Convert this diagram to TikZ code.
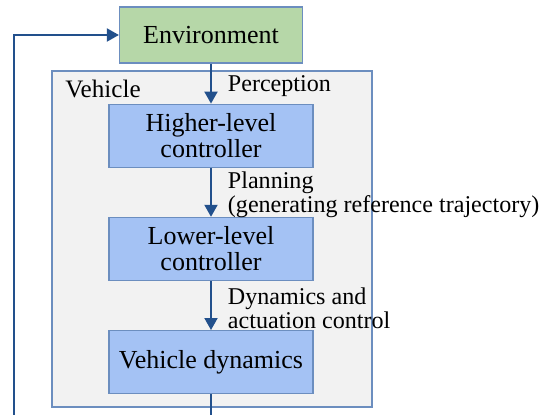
\documentclass[tikz,border=0pt]{standalone}
\usepackage{fontspec}
\setmainfont{Liberation Serif}
\usetikzlibrary{arrows.meta}
\usetikzlibrary{positioning}

\definecolor{envGreen}{HTML}{B6D7A8}
\definecolor{ctrlBlue}{HTML}{A4C2F4}
\definecolor{frameGray}{HTML}{F2F2F2}
\definecolor{boxBorder}{HTML}{6C8EBF}
\definecolor{arrowBlue}{HTML}{22508C}

\begin{document}
\begin{tikzpicture}
      [x=0.02cm,y=-0.02cm,
       vehicleFrame/.style={rectangle,draw=boxBorder,fill=frameGray,line width=0.7pt,minimum width=6.4cm,minimum height=6.72cm},
       envBox/.style={rectangle,draw=boxBorder,fill=envGreen,line width=0.7pt,minimum width=3.66cm,minimum height=1.12cm,font=\fontsize{14.8}{15}\selectfont},
       ctrlBox/.style={rectangle,draw=boxBorder,fill=ctrlBlue,line width=0.7pt,minimum width=4.08cm,minimum height=1.26cm,align=center,font=\fontsize{14.8}{15}\selectfont,node distance=0.98cm},
       flowLine/.style={draw=arrowBlue,line width=1.1pt},
       flowArrow/.style={flowLine,-{Triangle[length=0.24cm,width=0.26cm]}},
       flowLabel/.style={right,align=left,inner sep=0pt,xshift=0.32cm,yshift=-0.05cm,text=black,font=\fontsize{13.7}{10.9}\selectfont}]
      \useasboundingbox (0,0) rectangle (545,415);
      \node[vehicleFrame] (vehicle) at (212,239) {};
      \node[anchor=base west,inner sep=0pt,font=\fontsize{14.3}{15}\selectfont] (vehicleLabel) at (65,98) {Vehicle};
      \node[envBox] (env) at (211,35) {Environment};
      \node[ctrlBox] (higher) [below=0.8cm of env] {Higher-level\\controller};
      \node[ctrlBox] (lower) [below=of higher] {Lower-level\\controller};
      \node[ctrlBox] (dynamics) [below=of lower] {Vehicle dynamics};
      \coordinate (outBottom) at (211,415);
      \coordinate (loopBottom) at (14,415);
      \draw[flowArrow] (env) -- node[flowLabel] {Perception} (higher);
      \draw[flowArrow] (higher) -- node[flowLabel] {Planning\\(generating reference trajectory)} (lower);
      \draw[flowArrow] (lower) -- node[flowLabel] {Dynamics and\\actuation control} (dynamics);
      \draw[flowLine] (dynamics) -- (outBottom);
      \draw[flowArrow] (loopBottom) |- (env);
    \end{tikzpicture}
\end{document}
